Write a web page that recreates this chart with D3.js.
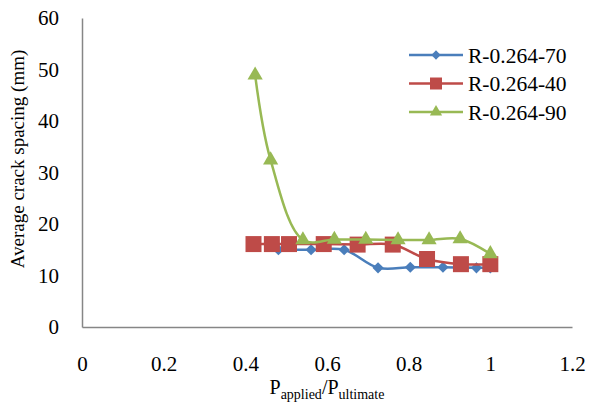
<!DOCTYPE html>
<html>
<head>
<meta charset="utf-8">
<script src="https://cdn.jsdelivr.net/npm/d3@7"></script>
<style>
  body { margin: 0; background: #fff; }
</style>
</head>
<body>
<svg id="chart" width="589" height="404"></svg>
<script>
// data
const seriesNames = ['R-0.264-70', 'R-0.264-40', 'R-0.264-90']
const seriesColors = ['#4a7ebb', '#be4b48', '#98b954']
const seriesShapes = ['diamond', 'square', 'triangle']

const x70 = [0.481, 0.561, 0.642, 0.725, 0.804, 0.884, 0.966, 1.0]
const y70 = [15.0, 15.0, 15.0, 11.5, 11.6, 11.6, 11.5, 11.5]

const x40 = [0.42, 0.465, 0.507, 0.592, 0.675, 0.761, 0.845, 0.928, 1.0]
const y40 = [16.1, 16.1, 16.1, 16.1, 16.0, 16.0, 13.2, 12.2, 12.2]

const x90 = [0.424, 0.462, 0.541, 0.618, 0.695, 0.774, 0.850, 0.926, 1.0]
const y90 = [48.9, 32.4, 16.9, 17.0, 17.0, 16.9, 16.9, 17.1, 14.2]

const xTicks = [0, 0.2, 0.4, 0.6, 0.8, 1, 1.2]
const yTicks = [0, 10, 20, 30, 40, 50, 60]

const FONT = 'Liberation Serif'

const svg = d3.select('#chart')

const plot = { left: 82, right: 572, top: 18, bottom: 327 }

const xScale = d3.scaleLinear().domain([0, 1.2]).range([plot.left, plot.right])
const yScale = d3.scaleLinear().domain([0, 60]).range([plot.bottom, plot.top])

// axes: plain grey lines, no ticks
const yAxis = svg.append('g')
    .attr('transform', `translate(${plot.left},0)`)
    .call(d3.axisLeft(yScale).tickValues(yTicks).tickSize(0).tickPadding(23))
yAxis.select('.domain').attr('stroke', '#868686').attr('stroke-width', 1.5)
yAxis.selectAll('text')
    .style('font-family', FONT)
    .style('font-size', '21px')

const xAxis = svg.append('g')
    .attr('transform', `translate(0,${plot.bottom})`)
    .call(d3.axisBottom(xScale).tickValues(xTicks).tickFormat(d3.format('')).tickSize(0).tickPadding(29))
xAxis.select('.domain').attr('stroke', '#868686').attr('stroke-width', 1.5)
xAxis.selectAll('text')
    .style('font-family', FONT)
    .style('font-size', '21px')

// axis titles
svg.append('text')
    .attr('transform', 'translate(24,159) rotate(-90)')
    .attr('text-anchor', 'middle')
    .style('font-family', FONT)
    .style('font-size', '19px')
    .text('Average crack spacing (mm)')

const xt = svg.append('text')
    .attr('x', 327)
    .attr('y', 394)
    .attr('text-anchor', 'middle')
    .style('font-family', FONT)
    .style('font-size', '20px')
xt.append('tspan').text('P')
xt.append('tspan').attr('dy', 5).style('font-size', '14px').text('applied')
xt.append('tspan').attr('dy', -5).text('/P')
xt.append('tspan').attr('dy', 5).style('font-size', '14px').text('ultimate')

function markerPath(shape, small) {
    if (shape == 'diamond') return d3.symbol().type(d3.symbolDiamond2).size(small ? 55 : 80)()
    if (shape == 'square') return d3.symbol().type(d3.symbolSquare).size(small ? 144 : 256)()
    return d3.symbol().type(d3.symbolTriangle).size(small ? 65 : 100)()
}

const series = [
    { xs: x70, ys: y70 },
    { xs: x40, ys: y40 },
    { xs: x90, ys: y90 },
]

const line = d3.line()
    .x(d => xScale(d[0]))
    .y(d => yScale(d[1]))
    .curve(d3.curveCatmullRom.alpha(0.5))

series.forEach((s, i) => {
    const pts = s.xs.map((v, j) => [v, s.ys[j]])
    svg.append('path')
        .datum(pts)
        .attr('d', line)
        .attr('fill', 'none')
        .attr('stroke', seriesColors[i])
        .attr('stroke-width', 2.5)

    svg.append('g').selectAll('path')
        .data(pts)
        .join('path')
        .attr('d', markerPath(seriesShapes[i], false))
        .attr('transform', d => `translate(${xScale(d[0])},${yScale(d[1])})`)
        .attr('fill', seriesColors[i])
})

// legend
const legend = svg.append('g').attr('transform', 'translate(409,55)')
seriesNames.forEach((name, i) => {
    const row = legend.append('g').attr('transform', `translate(0,${i * 28.5})`)
    row.append('line')
        .attr('x1', 0).attr('x2', 54)
        .attr('stroke', seriesColors[i])
        .attr('stroke-width', 2.5)
    row.append('path')
        .attr('d', markerPath(seriesShapes[i], true))
        .attr('transform', 'translate(27,0)')
        .attr('fill', seriesColors[i])
    row.append('text')
        .attr('x', 59)
        .attr('dy', '0.35em')
        .style('font-family', FONT)
        .style('font-size', '21.5px')
        .text(name)
})
</script>
</body>
</html>
